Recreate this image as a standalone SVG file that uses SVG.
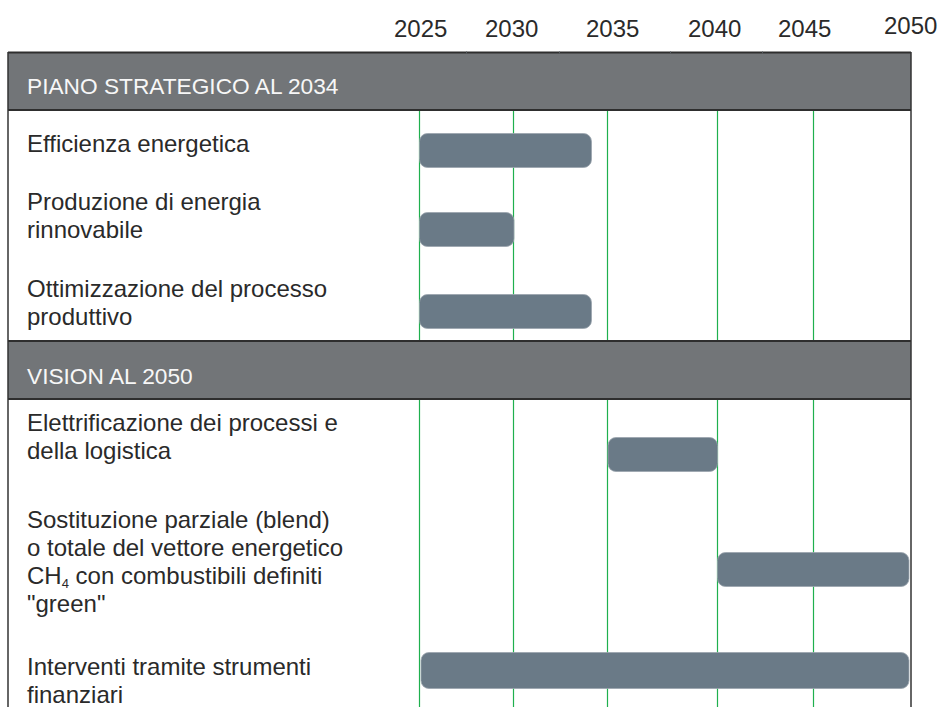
<svg xmlns="http://www.w3.org/2000/svg" width="942" height="707" viewBox="0 0 942 707">
<style>
  .yr { font-family: "Liberation Sans", Arial, sans-serif; font-size: 24px; fill: #2a2a2a; }
  .band { fill: #727578; }
  .bandline { stroke: #2e2e2e; stroke-width: 2; }
  .bandtxt { font-family: "Liberation Sans", Arial, sans-serif; font-size: 22.7px; fill: #f7f7f7; }
  .txt { font-family: "Liberation Sans", Arial, sans-serif; font-size: 24px; fill: #2a2a2a; }
  .sub { font-size: 13px; }
  .grid { stroke: #1fb04e; stroke-width: 1.2; }
  .border { stroke: #333333; stroke-width: 1.5; }
  .bar { fill: #6a7a87; stroke: #9aa4ad; stroke-width: 0.8; }
  .tick { stroke: #555a5e; stroke-width: 1; }
</style>
<rect x="0" y="0" width="942" height="707" fill="#ffffff"/>

<g id="axis">
  <text class="yr" x="394" y="36.5">2025</text>
  <text class="yr" x="485" y="36.5">2030</text>
  <text class="yr" x="586" y="36.5">2035</text>
  <text class="yr" x="688" y="36.5">2040</text>
  <text class="yr" x="778" y="36.5">2045</text>
  <text class="yr" x="884" y="33.5">2050</text>
</g>

<g id="gridlines">
  <line class="grid" x1="419.5" y1="110" x2="419.5" y2="341"/>
  <line class="grid" x1="513.5" y1="110" x2="513.5" y2="341"/>
  <line class="grid" x1="607.5" y1="110" x2="607.5" y2="341"/>
  <line class="grid" x1="717.5" y1="110" x2="717.5" y2="341"/>
  <line class="grid" x1="813.5" y1="110" x2="813.5" y2="341"/>
  <line class="grid" x1="419.5" y1="399" x2="419.5" y2="707"/>
  <line class="grid" x1="513.5" y1="399" x2="513.5" y2="707"/>
  <line class="grid" x1="607.5" y1="399" x2="607.5" y2="707"/>
  <line class="grid" x1="717.5" y1="399" x2="717.5" y2="707"/>
  <line class="grid" x1="813.5" y1="399" x2="813.5" y2="707"/>
</g>

<g id="band-piano">
  <rect class="band" x="8" y="52" width="903" height="58"/>
  <line class="bandline" x1="8" y1="52.5" x2="911" y2="52.5" stroke-width="2.6"/>
  <line class="bandline" x1="8" y1="110" x2="911" y2="110" stroke-width="1.2"/>
  <line class="tick" x1="466.5" y1="51.5" x2="466.5" y2="53.5"/>
  <line class="tick" x1="559.5" y1="51.5" x2="559.5" y2="53.5"/>
  <line class="tick" x1="670.5" y1="51.5" x2="670.5" y2="53.5"/>
  <line class="tick" x1="762.5" y1="51.5" x2="762.5" y2="53.5"/>
  <text class="bandtxt" x="27" y="94">PIANO STRATEGICO AL 2034</text>
</g>

<g id="band-vision">
  <rect class="band" x="8" y="341" width="903" height="58"/>
  <line class="bandline" x1="8" y1="341" x2="911" y2="341" stroke-width="1.8"/>
  <line class="bandline" x1="8" y1="399" x2="911" y2="399" stroke-width="1.5"/>
  <text class="bandtxt" x="27" y="383.5">VISION AL 2050</text>
</g>

<g id="borders">
  <line class="border" x1="8" y1="52" x2="8" y2="707"/>
  <line class="border" x1="911" y1="52" x2="911" y2="707"/>
</g>

<g id="row-efficienza">
  <text class="txt" x="27" y="152">Efficienza energetica</text>
  <rect class="bar" x="419.5" y="133.5" width="172" height="34" rx="8"/>
</g>

<g id="row-produzione">
  <text class="txt" x="27" y="210">Produzione di energia</text>
  <text class="txt" x="27" y="238">rinnovabile</text>
  <rect class="bar" x="419.5" y="212.5" width="94.5" height="34" rx="8"/>
</g>

<g id="row-ottimizzazione">
  <text class="txt" x="27" y="296.5">Ottimizzazione del processo</text>
  <text class="txt" x="27" y="324.5">produttivo</text>
  <rect class="bar" x="419.5" y="294.5" width="172" height="34" rx="8"/>
</g>

<g id="row-elettrificazione">
  <text class="txt" x="27" y="431">Elettrificazione dei processi e</text>
  <text class="txt" x="27" y="459">della logistica</text>
  <rect class="bar" x="608" y="437.5" width="109.5" height="34" rx="8"/>
</g>

<g id="row-sostituzione">
  <text class="txt" x="27" y="528">Sostituzione parziale (blend)</text>
  <text class="txt" x="27" y="556">o totale del vettore energetico</text>
  <text class="txt" x="27" y="584">CH<tspan class="sub" dy="4">4</tspan><tspan dy="-4"> con combustibili definiti</tspan></text>
  <text class="txt" x="27" y="612">"green"</text>
  <rect class="bar" x="717.5" y="552.5" width="191.5" height="34" rx="8"/>
</g>

<g id="row-interventi">
  <text class="txt" x="27" y="675">Interventi tramite strumenti</text>
  <text class="txt" x="27" y="703">finanziari</text>
  <rect class="bar" x="421" y="652.5" width="488" height="36" rx="8"/>
</g>
</svg>
